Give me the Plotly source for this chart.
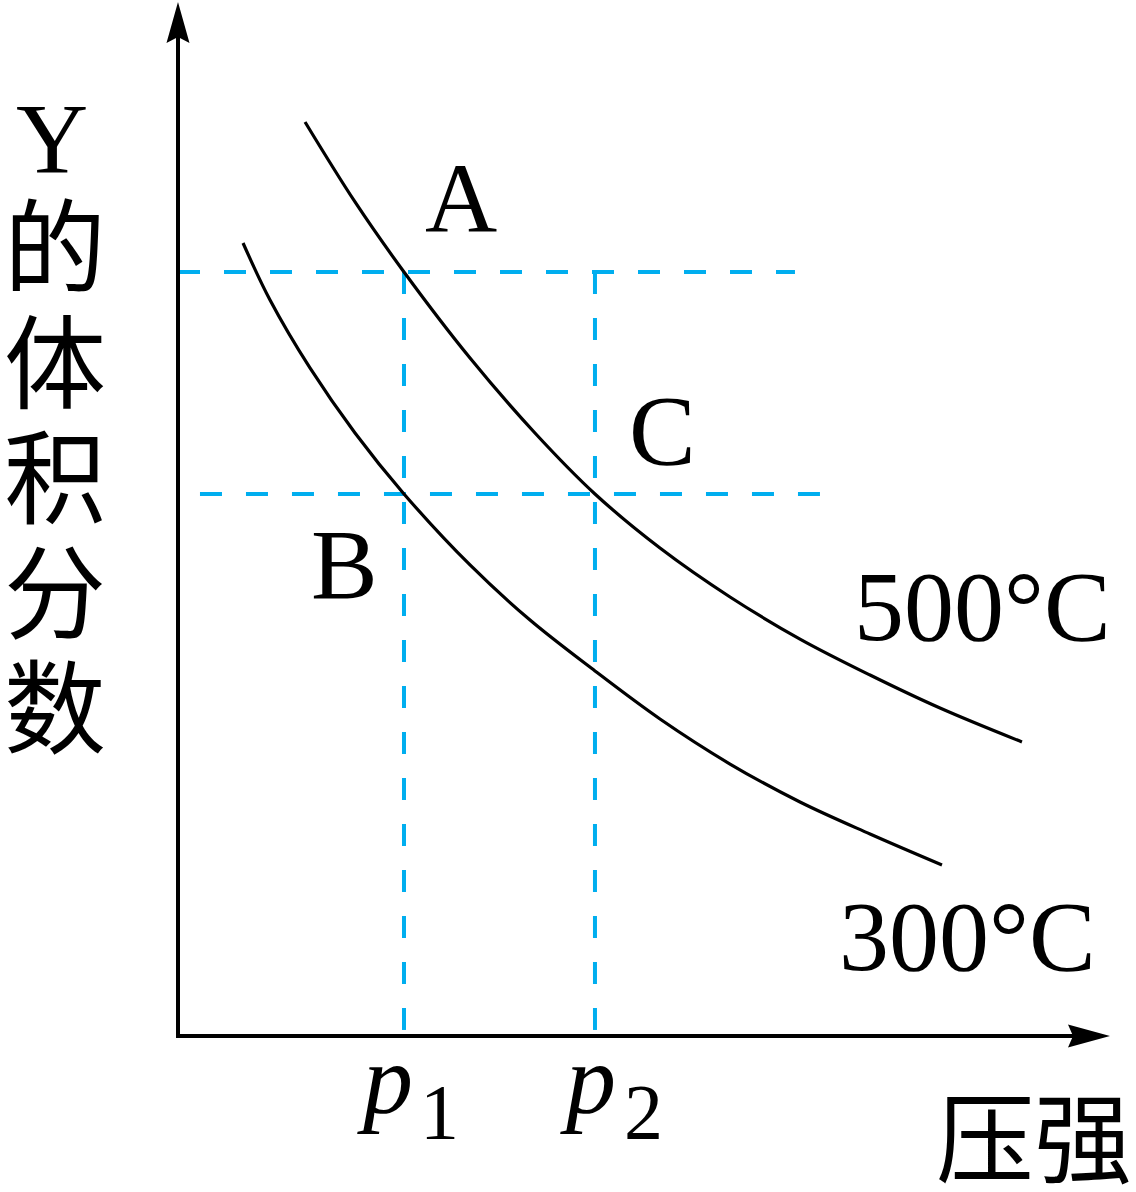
import plotly.graph_objects as go

# ---------------- data (schematic units) ----------------
p_500 = [1.393, 1.941, 2.478, 3.202, 3.914, 4.572, 5.285, 6.053, 6.820, 7.588, 8.355, 9.254]
y_500 = [8.996, 8.209, 7.520, 6.673, 5.935, 5.335, 4.803, 4.321, 3.907, 3.553, 3.228, 2.894]

p_300 = [0.713, 1.009, 1.447, 1.941, 2.478, 3.202, 3.860, 4.572, 5.285, 6.053, 6.820, 7.588, 8.377]
y_300 = [7.805, 7.244, 6.575, 5.935, 5.335, 4.636, 4.094, 3.593, 3.120, 2.677, 2.303, 1.988, 1.683]

p_marks = [2.478, 4.572]          # p1, p2
y_levels = [7.520, 5.335]         # level of A, level of B and C
level_x_start = [0.0, 0.241]
level_x_end = [6.765, 7.039]

point_labels = ["A", "B", "C"]
point_x = [3.103, 1.831, 5.307]
point_y = [8.248, 4.636, 5.955]

curve_labels = ["500°C", "300°C"]
curve_label_x = [8.816, 8.662]
curve_label_y = [4.232, 0.984]

y_title_chars = ["Y", "的", "体", "积", "分", "数"]
x_title = "压强"
tick_base = ["p", "p"]
tick_sub = ["1", "2"]

# ---------------- layout geometry ----------------
W, H = 1136, 1192
L, R, T, B = 180, 46, 20, 158
PW, PH = W - L - R, H - T - B
XS, X0PX = 91.2, 178      # px per unit, pixel of x = 0
YS, Y0PX = 101.6, 1036    # px per unit, pixel of y = 0
x_range = [(L - X0PX) / XS, (W - R - X0PX) / XS]
y_range = [(Y0PX - (H - B)) / YS, (Y0PX - T) / YS]


def paper(px, py):
    return (px - L) / PW, (H - B - py) / PH


BLUE = "#00AEEF"
SERIF = "Liberation Serif, Times New Roman, serif"
CJK = "Noto Sans CJK SC, sans-serif"
DASH = "22px,24px"

fig = go.Figure()

# dashed guide lines
for i, yl in enumerate(y_levels):
    fig.add_trace(go.Scatter(
        x=[level_x_start[i], level_x_end[i]], y=[yl, yl], mode="lines",
        line=dict(color=BLUE, width=4, dash=DASH), hoverinfo="skip"))
for pm in p_marks:
    fig.add_trace(go.Scatter(
        x=[pm, pm], y=[y_levels[0], 0], mode="lines",
        line=dict(color=BLUE, width=4, dash=DASH), hoverinfo="skip"))

# curves
fig.add_trace(go.Scatter(x=p_500, y=y_500, mode="lines", name="500°C",
                         line=dict(color="black", width=3.2, shape="spline", smoothing=1)))
fig.add_trace(go.Scatter(x=p_300, y=y_300, mode="lines", name="300°C",
                         line=dict(color="black", width=3.2, shape="spline", smoothing=1)))

annotations = []
for t, x, y in zip(point_labels, point_x, point_y):
    annotations.append(dict(x=x, y=y, xref="x", yref="y", text=t, showarrow=False,
                            font=dict(family=SERIF, size=100, color="black"),
                            xanchor="center", yanchor="middle"))
for t, x, y in zip(curve_labels, curve_label_x, curve_label_y):
    annotations.append(dict(x=x, y=y, xref="x", yref="y", text=t, showarrow=False,
                            font=dict(family=SERIF, size=100, color="black"),
                            xanchor="center", yanchor="middle"))

# vertical y title (stacked characters)
title_px_y = [138, 240, 356, 471, 586, 701]
for ch, py in zip(y_title_chars, title_px_y):
    xp, yp = paper(52 if ch == "Y" else 55, py)
    annotations.append(dict(x=xp, y=yp, xref="paper", yref="paper", text=ch, showarrow=False,
                            font=dict(family=SERIF if ch == "Y" else CJK,
                                      size=100 if ch == "Y" else 102, color="black"),
                            xanchor="center", yanchor="middle"))

# x title
xp, yp = paper(1034, 1132)
annotations.append(dict(x=xp, y=yp, xref="paper", yref="paper", text=x_title, showarrow=False,
                        font=dict(family=CJK, size=98, color="black"),
                        xanchor="center", yanchor="middle"))

# p1, p2 tick labels
base_px = [385, 587.5]
sub_px = [439, 643.5]
for i in range(2):
    xp, yp = paper(base_px[i], 1079)
    annotations.append(dict(x=xp, y=yp, xref="paper", yref="paper",
                            text="<i>" + tick_base[i] + "</i>", showarrow=False,
                            font=dict(family=SERIF, size=100, color="black"),
                            xanchor="center", yanchor="middle"))
    xp, yp = paper(sub_px[i], 1111)
    annotations.append(dict(x=xp, y=yp, xref="paper", yref="paper",
                            text=tick_sub[i], showarrow=False,
                            font=dict(family=SERIF, size=78, color="black"),
                            xanchor="center", yanchor="middle"))


def path(points):
    s = ""
    for k, (px, py) in enumerate(points):
        xp, yp = paper(px, py)
        s += ("M" if k == 0 else "L") + f"{xp:.5f},{yp:.5f}"
    return s + "Z"


shapes = [
    dict(type="path", xref="paper", yref="paper",
         path=path([(178, 2), (189.5, 43), (178, 37), (166.5, 43)]),
         fillcolor="black", line=dict(width=0)),
    dict(type="path", xref="paper", yref="paper",
         path=path([(1110, 1036), (1068, 1047.5), (1073, 1036), (1068, 1024.5)]),
         fillcolor="black", line=dict(width=0)),
]

fig.update_layout(
    width=W, height=H,
    margin=dict(l=L, r=R, t=T, b=B, pad=0),
    paper_bgcolor="white", plot_bgcolor="white",
    showlegend=False,
    annotations=annotations,
    shapes=shapes,
    xaxis=dict(range=x_range, showgrid=False, zeroline=False, showticklabels=False,
               ticks="", showline=True, linecolor="black", linewidth=4, fixedrange=True),
    yaxis=dict(range=y_range, showgrid=False, zeroline=False, showticklabels=False,
               ticks="", showline=True, linecolor="black", linewidth=4, fixedrange=True),
)

fig.write_html(
    "out.html",
    config={"displayModeBar": False},
    post_script="document.body.style.margin='0px';document.body.style.padding='0px';",
)
